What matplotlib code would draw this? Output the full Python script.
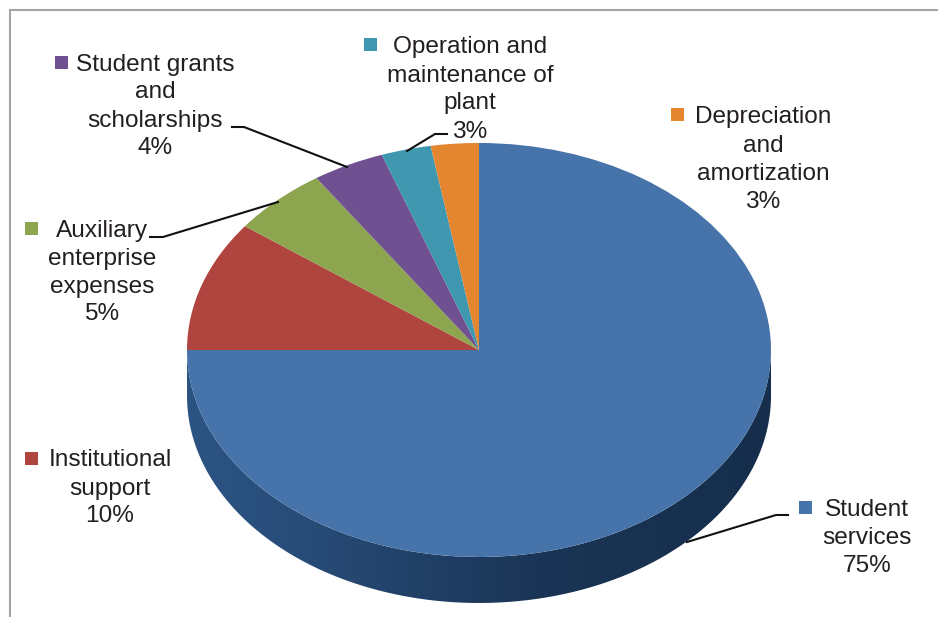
import numpy as np
import matplotlib
matplotlib.use("Agg")
import matplotlib.pyplot as plt
from matplotlib.colors import LinearSegmentedColormap
from matplotlib.patches import PathPatch, Rectangle
from matplotlib.path import Path

categories = ["Student services", "Institutional support", "Auxiliary enterprise expenses",
              "Student grants and scholarships", "Operation and maintenance of plant",
              "Depreciation and amortization"]
values = [75.0, 10.2, 5.4, 4.0, 2.75, 2.65]
colors = ["#4673a9", "#b0443f", "#8ca54e", "#6f5192", "#3f98b0", "#e4852f"]
wrapped = ["Student\nservices", "Institutional\nsupport", "Auxiliary\nenterprise\nexpenses",
           "Student grants\nand\nscholarships", "Operation and\nmaintenance of\nplant",
           "Depreciation\nand\namortization"]

W, H = 938, 617
CX, CY, RX, RY, DEPTH = 479, 350, 292, 207, 46
fig = plt.figure(figsize=(W / 100, H / 100), dpi=100, facecolor="white")
plt.rcParams["font.family"] = ["Liberation Sans", "DejaVu Sans"]

# pie axes: one data unit equals RX / RY pixels, which flattens the pie
LIM = 1.3
ax = fig.add_axes([(CX - LIM * RX) / W, 1 - (CY + LIM * RY) / H,
                   2 * LIM * RX / W, 2 * LIM * RY / H])
ax.pie(values, colors=colors, startangle=90, counterclock=False, radius=1,
       wedgeprops={"linewidth": 0})
ax.set_aspect("auto")

# extruded side of the disc
d = DEPTH / RY
t = np.linspace(np.pi, 2 * np.pi, 200)
xs = np.r_[np.cos(t), np.cos(t[::-1])]
ys = np.r_[np.sin(t) - d, np.sin(t[::-1])]
side = PathPatch(Path(np.c_[xs, ys]), transform=ax.transData, fc="none", ec="none")
ax.add_patch(side)
cmap = LinearSegmentedColormap.from_list(
    "side", [(0, "#2c5483"), (0.2, "#284c78"), (0.45, "#1f3d62"), (0.62, "#1a3455"), (1, "#162e4c")])
im = ax.imshow(np.linspace(0, 1, 256)[None, :], cmap=cmap, extent=(-1, 1, -1 - d, 0),
               aspect="auto", zorder=0.5, interpolation="bilinear")
im.set_clip_path(side)
ax.set_xlim(-LIM, LIM)
ax.set_ylim(-LIM, LIM)
ax.set_axis_off()

# overlay in pixel units for annotations
ov = fig.add_axes([0, 0, 1, 1], facecolor="none")
ov.set_xlim(0, W)
ov.set_ylim(H, 0)
ov.set_axis_off()

ov.plot([10, 10, W], [H, 10, 10], color="#a3a3a3", lw=1.5, solid_joinstyle="miter")

# (text centre x, first-line centre y, key x, key y)
label_pos = [(867, 507, 799, 501), (110, 458, 25, 452), (102, 228, 25, 222),
             (155, 62, 55, 56), (470, 45, 364, 38), (763, 115, 671, 108)]
LINE = 28.0
FS = 17.6
for name, v, (tx, ty, kx, ky), c in zip(wrapped, values, label_pos, colors):
    lines = name.split("\n") + [f"{v:.0f}%"]
    for i, s in enumerate(lines):
        ov.text(tx, ty + i * LINE, s, ha="center", va="center_baseline", fontsize=FS, color="#231f20")
    ov.add_patch(Rectangle((kx, ky), 12.5, 12.5, fc=c, ec="none"))

leaders = [([788, 776, 687], [515, 515, 542]),
           ([232, 244, 347], [127, 127, 167]),
           ([150, 163, 278], [237, 237, 202]),
           ([447, 435, 407], [134, 134, 151])]
for lx, ly in leaders:
    ov.plot(lx, ly, color="#111111", lw=1.5)

fig.savefig("out.png", dpi=100, facecolor="white")
